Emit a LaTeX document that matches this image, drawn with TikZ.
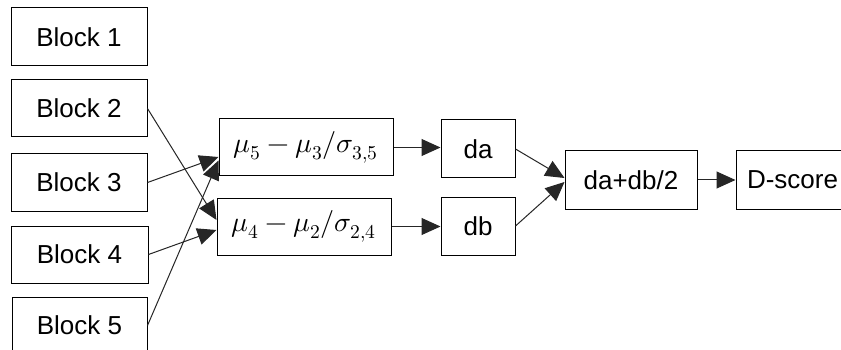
\documentclass[tikz,border=0pt]{standalone}
\usepackage{fontspec}
\usepackage{unicode-math}
\setmainfont{Liberation Sans}
\setmathfont{Latin Modern Math}
\usetikzlibrary{arrows.meta}
\begin{document}
\begin{tikzpicture}[x=1pt,y=-1pt,
  box/.style={draw=black,line width=1pt,rectangle,inner sep=0pt,font=\fontsize{26}{30}\selectfont},
  mathbox/.style={box,font=\fontsize{28}{32}\selectfont},
  conn/.style={draw=black!85,line width=1pt,-{Triangle[length=19pt,width=17pt]}}]
\useasboundingbox (0,0) rectangle (841,350);
\clip (0,0) rectangle (841,350);
\fill[white] (0,0) rectangle (841,350);
\node[box,minimum width=136pt,minimum height=58pt] (b1) at (79,37) {Block 1\hspace{9pt}};
\node[box,minimum width=136pt,minimum height=57pt] (b2) at (79,108.5) {Block 2\hspace{9pt}};
\node[box,minimum width=136pt,minimum height=57pt] (b3) at (79,182.5) {Block 3\hspace{9pt}};
\node[box,minimum width=137pt,minimum height=57pt] (b4) at (79.5,254.5) {Block 4\hspace{9pt}};
\node[box,minimum width=135pt,minimum height=57pt] (b5) at (79.5,325.5) {Block 5\hspace{9pt}};
\node[mathbox,minimum width=174pt,minimum height=57pt] (f1) at (306,147.5) {$\mu_5-\mu_3/\sigma_{3,5}$};
\node[mathbox,minimum width=174pt,minimum height=57pt] (f2) at (304,226.5) {$\mu_4-\mu_2/\sigma_{2,4}$};
\node[box,minimum width=74pt,minimum height=58pt] (da) at (478,149) {da};
\node[box,minimum width=74pt,minimum height=58pt] (db) at (478,226) {db};
\node[box,minimum width=132pt,minimum height=58pt] (sum) at (631,180) {da+db/2};
\node[box,minimum width=113pt,minimum height=58pt] (ds) at (792.5,180) {D-score};
\draw[conn] (b2.east) -- ([yshift=6.5pt]f2.west);
\draw[conn] (b4.east) -- ([yshift=-3.5pt]f2.west);
\draw[conn] (b3.east) -- ([yshift=-9.5pt]f1.west);
\draw[conn] (b5.east) -- ([yshift=-13pt]f1.west);
\draw[conn] (f1.east) -- (f1.east -| da.west);
\draw[conn] (f2.east) -- (f2.east -| db.west);
\draw[conn] (da.east) -- ([yshift=2pt]sum.west);
\draw[conn] (db.east) -- ([yshift=-2pt]sum.west);
\draw[conn] (sum.east) -- (ds.west);
\end{tikzpicture}
\end{document}
